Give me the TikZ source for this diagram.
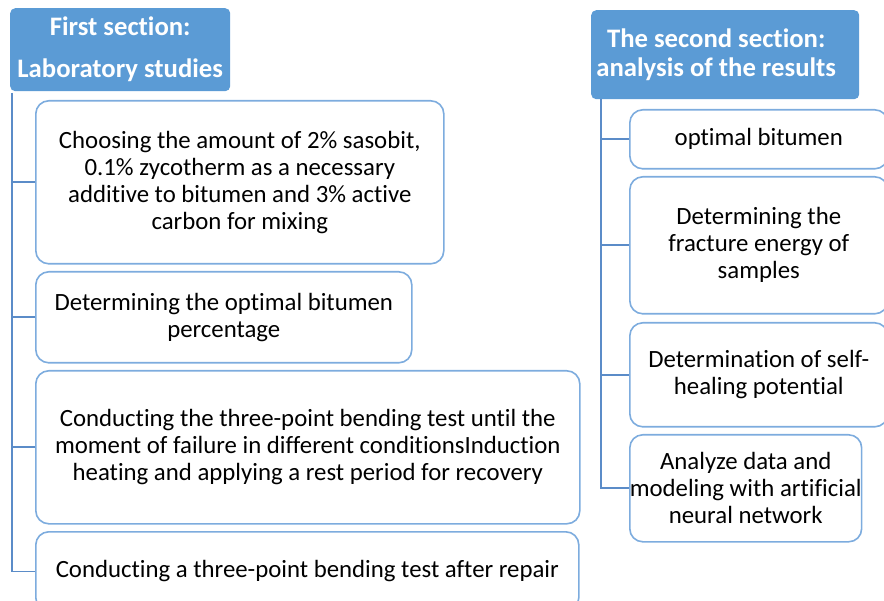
\documentclass[tikz,border=0pt]{standalone}
\usepackage{fontspec}
\setmainfont{Carlito}[Ligatures={NoCommon}]
\usepackage{tikz}
\usetikzlibrary{positioning,calc}
\definecolor{HeadFill}{RGB}{91,155,213}
\definecolor{BoxBorder}{RGB}{125,172,222}
\definecolor{SpineColor}{RGB}{91,140,200}
\tikzset{
  % Section header
  headbox/.style={
    rectangle,
    rounded corners=5pt,
    fill=HeadFill,
    text=white,
    font=\fontsize{26.7}{29}\selectfont\bfseries,
    align=center,
    inner sep=0pt,
    anchor=north west
  },
  % Step box
  itembox/.style={
    rectangle,
    rounded corners=13pt,
    draw=BoxBorder,
    fill=white,
    line width=1.6pt,
    font=\fontsize{24.8}{27}\selectfont,
    align=center,
    inner sep=0pt,
    anchor=north west
  },
  % Tree connector
  branch/.style={
    draw=SpineColor,
    line width=1.6pt
  }
}

\begin{document}
\begin{tikzpicture}[x=1pt, y=-1pt]
  \useasboundingbox (0,0) rectangle (884,601);
  \clip (0,0) rectangle (884,601);

  % First section
  \node[headbox, minimum width=220pt, minimum height=83pt,
        font=\fontsize{26.7}{42}\selectfont\bfseries] (h1) at (10,8)
    {First section:\\Laboratory studies};
  \coordinate (s1top) at (12,93);

  \node[itembox, minimum width=408pt, minimum height=163pt] (a1) at (35,100)
    {Choosing the amount of 2\% sasobit,\\0.1\% zycotherm as a necessary\\additive to bitumen and 3\% active\\carbon for mixing};
  \node[itembox, minimum width=376pt, minimum height=91pt] (a2) at (35,271)
    {Determining the optimal bitumen\\percentage};
  \node[itembox, minimum width=544pt, minimum height=153pt] (a3) at (35,370)
    {Conducting the three-point bending test until the\\moment of failure in different conditionsInduction\\heating and applying a rest period for recovery};
  \node[itembox, minimum width=543pt, minimum height=79pt] (a4) at (35,531)
    {Conducting a three-point bending test after repair};

  \draw[branch] (s1top) |- (a4.west);
  \draw[branch] (a1.west) -- (a1.west -| s1top);
  \draw[branch] (a2.west) -- (a2.west -| s1top);
  \draw[branch] (a3.west) -- (a3.west -| s1top);

  % Second section
  \node[headbox, minimum width=268pt, minimum height=89pt] (h2) at (591,10)
    {The second section:\hspace*{18pt}\\analysis of the results\hspace*{18pt}};
  \coordinate (s2top) at (601,99);

  \node[itembox, minimum width=258pt, minimum height=59pt] (b1) at (629,109)
    {optimal bitumen};
  \node[itembox, minimum width=258pt, minimum height=137pt] (b2) at (629,176)
    {Determining the\\fracture energy of\\samples};
  \node[itembox, minimum width=258pt, minimum height=104pt] (b3) at (629,322)
    {Determination of self-\\healing potential};
  \node[itembox, minimum width=224pt, minimum height=107pt] (b4) at (629,434)
    {Analyze data and\\modeling with artificial\\neural network};

  \draw[branch] (s2top) |- (b4.west);
  \draw[branch] (b1.west) -- (b1.west -| s2top);
  \draw[branch] (b2.west) -- (b2.west -| s2top);
  \draw[branch] (b3.west) -- (b3.west -| s2top);
\end{tikzpicture}
\end{document}
